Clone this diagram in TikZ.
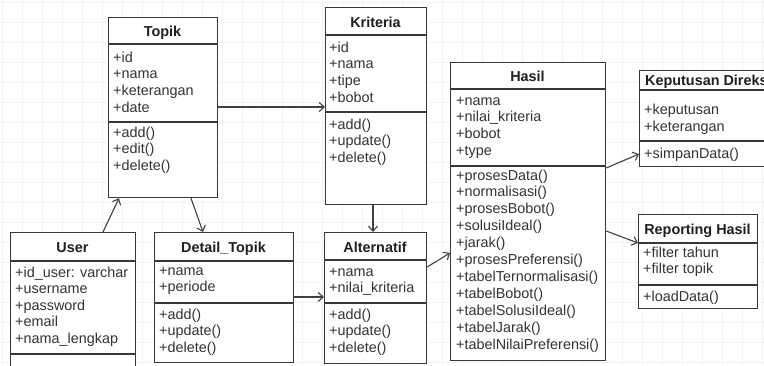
\documentclass[tikz,border=0pt]{standalone}
\usepackage{fontspec}
\setmainfont{Liberation Sans}
\usetikzlibrary{arrows.meta,calc}

% class box: #1 name, #2 left, #3 top, #4 width, #5 height, #6 header rule y, #7 divider rule y
\newcommand\umlbox[7]{%
  \node[classbox, minimum width=#4pt, minimum height=#5pt] (#1) at (#2,#3) {};
  \draw[sepline] (#1.west |- 0,#6) -- (#1.east |- 0,#6);
  \draw[sepline] (#1.west |- 0,#7) -- (#1.east |- 0,#7);
}
% member lines: #1 name prefix, #2 x, #3 first baseline, #4 line step, #5 list
\newcommand\umlmembers[5]{%
  \foreach \txt [count=\i] in {#5}
    \node[membertext] (#1\i) at (#2, {#3+(\i-1)*#4}) {\txt};
}

\begin{document}
\begin{tikzpicture}[x=1pt,y=-1pt,
  gridline/.style={draw=black!5, line width=0.5pt},
  classbox/.style={draw=black!78, line width=1.2pt, fill=white, inner sep=0pt, anchor=north west},
  sepline/.style={draw=black!78, line width=1.2pt},
  titletext/.style={font=\fontsize{14.4}{17}\selectfont\bfseries, text=black!88, inner sep=0pt, anchor=base},
  membertext/.style={font=\fontsize{14.4}{17}\selectfont, text=black!80, inner sep=0pt, anchor=base west},
  assoc/.style={draw=black!75, line width=1.1pt, -{Straight Barb[length=5pt,width=9pt]}},
]
\useasboundingbox (0,0) rectangle (764,365);
\clip (0,0) rectangle (764,365);

% faint background grid
\foreach \gx in {2,22,...,762} \draw[gridline] (\gx,0) -- (\gx,365);
\foreach \gy in {2,22,...,362} \draw[gridline] (0,\gy) -- (764,\gy);

% Topik
\umlbox{topik}{108}{17}{109}{180}{44}{122}
\node[titletext] (topik-title) at (162.5,36.5) {Topik};
\umlmembers{topik-a}{113}{62}{16.8}{+id,+nama,+keterangan,+date}
\umlmembers{topik-m}{113}{137}{16.8}{+add(),+edit(),+delete()}

% Kriteria
\umlbox{kriteria}{325}{7}{101}{197}{35}{112}
\node[titletext] (kriteria-title) at (375.5,27) {Kriteria};
\umlmembers{kriteria-a}{329}{52}{16.8}{+id,+nama,+tipe,+bobot}
\umlmembers{kriteria-m}{329}{129}{16.8}{+add(),+update(),+delete()}

% Hasil
\umlbox{hasil}{450}{62}{155}{298}{89}{166}
\node[titletext] (hasil-title) at (527.5,81) {Hasil};
\umlmembers{hasil-a}{456}{105}{16.8}{+nama,+nilai\_kriteria,+bobot,+type}
\umlmembers{hasil-m}{456}{180}{16.9}{+prosesData(),+normalisasi(),+prosesBobot(),+solusiIdeal(),+jarak(),+prosesPreferensi(),+tabelTernormalisasi(),+tabelBobot(),+tabelSolusiIdeal(),+tabelJarak(),+tabelNilaiPreferensi()}

% Keputusan Direksi
\umlbox{keputusan}{639}{70}{135}{96}{90}{141}
\node[titletext, anchor=base west] (keputusan-title) at (645,85.5) {Keputusan Direksi};
\umlmembers{keputusan-a}{644}{114}{17}{+keputusan,+keterangan}
\umlmembers{keputusan-m}{644}{158}{17}{+simpanData()}

% Reporting Hasil
\umlbox{reporting}{638}{214}{119}{94}{243}{285}
\node[titletext] (reporting-title) at (697.5,234.5) {Reporting Hasil};
\umlmembers{reporting-a}{643}{257}{16}{+filter tahun,+filter topik}
\umlmembers{reporting-m}{643}{301}{16}{+loadData()}

% User
\umlbox{user}{10}{232}{125}{150}{261}{354}
\node[titletext] (user-title) at (72.5,252) {User};
\umlmembers{user-a}{15}{277}{16.6}{+id\_user: varchar,+username,+password,+email,+nama\_lengkap}

% Detail_Topik
\umlbox{detail}{154}{232}{139}{130}{261}{303}
\node[titletext] (detail-title) at (223.5,252) {Detail\_Topik};
\umlmembers{detail-a}{159}{275}{16.8}{+nama,+periode}
\umlmembers{detail-m}{159}{319}{16.8}{+add(),+update(),+delete()}

% Alternatif
\umlbox{alternatif}{324}{232}{102}{131}{260}{303}
\node[titletext] (alternatif-title) at (375,252) {Alternatif};
\umlmembers{alternatif-a}{329}{276}{16.8}{+nama,+nilai\_kriteria}
\umlmembers{alternatif-m}{329}{319}{16.8}{+add(),+update(),+delete()}

% associations
\draw[assoc] ($(topik.north east)+(0,90)$) -- ($(kriteria.north west)+(0,100)$);
\draw[assoc] ($(user.north west)+(93,0)$) -- ($(topik.south west)+(11,0)$);
\draw[assoc] ($(topik.south west)+(83,0)$) -- ($(detail.north west)+(49,0)$);
\draw[assoc] ($(kriteria.south west)+(48,0)$) -- ($(alternatif.north west)+(49,0)$);
\draw[assoc] ($(detail.north east)+(0,65)$) -- ($(alternatif.north west)+(0,65)$);
\draw[assoc] ($(alternatif.north east)+(0,35)$) -- ($(hasil.north west)+(0,191)$);
\draw[assoc] ($(hasil.north east)+(0,106)$) -- ($(keputusan.north west)+(0,84)$);
\draw[assoc] ($(hasil.north east)+(0,169)$) -- ($(reporting.north west)+(0,29)$);
\end{tikzpicture}
\end{document}
